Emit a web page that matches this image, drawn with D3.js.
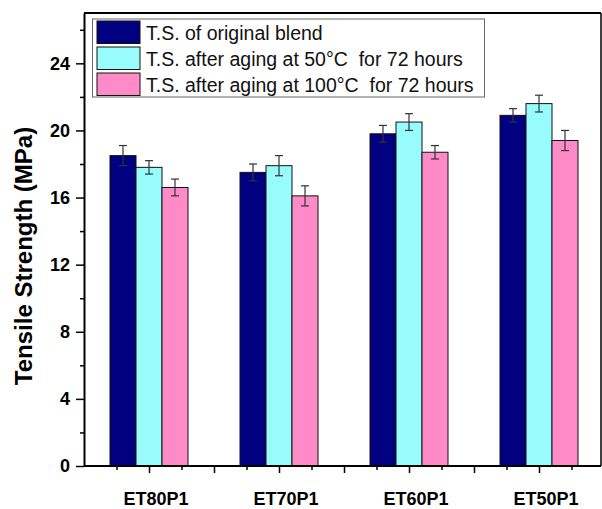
<!DOCTYPE html>
<html>
<head>
<meta charset="utf-8">
<script src="https://cdn.jsdelivr.net/npm/d3@7"></script>
<style>
  body { margin: 0; background: #fff; }
  text { font-family: "Liberation Sans", Arial, sans-serif; }
</style>
</head>
<body>
<div id="chart"></div>
<script>
// data
var categories = ["ET80P1", "ET70P1", "ET60P1", "ET50P1"];
var seriesNames = [
  "T.S. of original blend",
  "T.S. after aging at 50\u00B0C  for 72 hours",
  "T.S. after aging at 100\u00B0C  for 72 hours"
];
var original = [18.5, 17.5, 19.8, 20.9];
var aged50 = [17.8, 17.9, 20.5, 21.6];
var aged100 = [16.6, 16.1, 18.7, 19.4];
var originalErr = [0.6, 0.5, 0.5, 0.4];
var aged50Err = [0.4, 0.6, 0.5, 0.5];
var aged100Err = [0.5, 0.6, 0.4, 0.6];
var yTicks = [0, 4, 8, 12, 16, 20, 24];

var colors = ["#000080", "#99fcfc", "#ff8ac8"];
var values = [original, aged50, aged100];
var errors = [originalErr, aged50Err, aged100Err];

var svgWidth = 602;
var svgHeight = 509;

var svg = d3.select("#chart")
  .append("svg")
  .attr("width", svgWidth)
  .attr("height", svgHeight);

var plotLeft = 84, plotTop = 13, plotRight = 601, plotBottom = 466;

var x = d3.scaleLinear()
  .domain([0.5, 4.5])
  .range([plotLeft, 604]);

var y = d3.scaleLinear()
  .domain([0, 27])
  .range([plotBottom, plotTop]);

var barW = 0.2;

// bars
var bars = [];
values.forEach(function(vals, s) {
  vals.forEach(function(v, i) {
    bars.push({ s: s, i: i, v: v, e: errors[s][i] });
  });
});

svg.append("g").selectAll("rect")
  .data(bars)
  .enter()
  .append("rect")
  .attr("x", d => x(d.i + 1 - 0.3 + d.s * barW))
  .attr("width", d => x(barW) - x(0))
  .attr("y", d => y(d.v))
  .attr("height", d => y(0) - y(d.v))
  .attr("fill", d => colors[d.s])
  .attr("stroke", "#111")
  .attr("stroke-width", 1);

// error bars
var eb = svg.append("g")
  .attr("stroke", "#333")
  .attr("stroke-width", 1.2);
bars.forEach(function(d) {
  var cx = x(d.i + 1 - 0.3 + d.s * barW + barW / 2);
  eb.append("line")
    .attr("x1", cx).attr("x2", cx)
    .attr("y1", y(d.v - d.e)).attr("y2", y(d.v + d.e));
  [d.v - d.e, d.v + d.e].forEach(function(t) {
    eb.append("line")
      .attr("x1", cx - 4).attr("x2", cx + 4)
      .attr("y1", y(t)).attr("y2", y(t));
  });
});

// frame
svg.append("line")
  .attr("x1", plotLeft).attr("x2", plotRight)
  .attr("y1", plotTop).attr("y2", plotTop)
  .attr("stroke", "#000").attr("stroke-width", 2);
svg.append("line")
  .attr("x1", plotRight).attr("x2", plotRight)
  .attr("y1", plotTop).attr("y2", plotBottom)
  .attr("stroke", "#000").attr("stroke-width", 1.5);

// y axis
var yMinor = d3.range(2, 27, 4);
svg.append("g")
  .attr("transform", `translate(${plotLeft},0)`)
  .call(d3.axisLeft(y).tickValues(yMinor).tickSize(4).tickFormat(""))
  .call(g => g.select(".domain").remove())
  .selectAll("line").attr("stroke-width", 1.5);

var yAxis = svg.append("g")
  .attr("transform", `translate(${plotLeft},0)`)
  .call(d3.axisLeft(y).tickValues(yTicks).tickSize(8).tickPadding(6).tickSizeOuter(0));
yAxis.select(".domain").attr("stroke-width", 2);
yAxis.selectAll("line").attr("stroke-width", 1.5);
yAxis.selectAll("text")
  .attr("font-size", "18px")
  .attr("font-weight", "bold")
  .attr("fill", "#000")
  .style("font-family", "'Liberation Sans', Arial, sans-serif");

// x axis
var xMajor = d3.range(1, 4.51, 0.5);
var xMinor = d3.range(0.75, 4.5, 0.5);
svg.append("g")
  .attr("transform", `translate(0,${plotBottom})`)
  .call(d3.axisBottom(x).tickValues(xMinor).tickSize(4).tickFormat(""))
  .call(g => g.select(".domain").remove())
  .selectAll("line").attr("stroke-width", 1.5);

var xAxis = svg.append("g")
  .attr("transform", `translate(0,${plotBottom})`)
  .call(d3.axisBottom(x).tickValues(xMajor).tickSize(7).tickFormat("").tickSizeOuter(0));
xAxis.select(".domain").attr("stroke-width", 2)
  .attr("d", `M${plotLeft},0H${plotRight}`);
xAxis.selectAll("line").attr("stroke-width", 1.5);

svg.append("g").selectAll("text")
  .data(categories)
  .enter()
  .append("text")
  .attr("x", (d, i) => x(i + 1) + 7)
  .attr("y", 505)
  .attr("text-anchor", "middle")
  .attr("font-size", "18px")
  .attr("font-weight", "bold")
  .text(d => d);

// y title
svg.append("text")
  .attr("transform", "translate(32,256) rotate(-90)")
  .attr("text-anchor", "middle")
  .attr("font-size", "24px")
  .attr("font-weight", "bold")
  .text("Tensile Strength (MPa)");

// legend
var legend = svg.append("g");
legend.append("rect")
  .attr("x", 92.5).attr("y", 19)
  .attr("width", 392).attr("height", 78)
  .attr("fill", "#fff")
  .attr("stroke", "#666")
  .attr("stroke-width", 1);

seriesNames.forEach(function(name, s) {
  var ry = 21 + s * 26;
  legend.append("rect")
    .attr("x", 97).attr("y", ry)
    .attr("width", 43).attr("height", 22.5)
    .attr("fill", colors[s])
    .attr("stroke", "#111")
    .attr("stroke-width", 1);
  legend.append("text")
    .attr("x", 146).attr("y", ry + 18.5)
    .attr("font-size", "19.5px")
    .attr("fill", "#111")
    .style("white-space", "pre")
    .text(name);
});
</script>
</body>
</html>
